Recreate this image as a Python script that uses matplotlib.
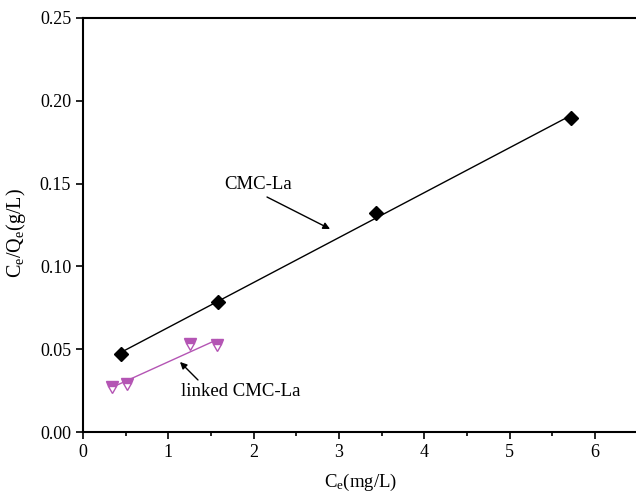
import numpy as np
import matplotlib.pyplot as plt
from matplotlib.ticker import MultipleLocator, FormatStrFormatter

plt.rcParams['font.family'] = 'Liberation Serif'
plt.rcParams['mathtext.fontset'] = 'custom'
plt.rcParams['mathtext.rm'] = 'Liberation Serif'
plt.rcParams['mathtext.it'] = 'Liberation Serif'

# equilibrium concentration (mg/L) vs Ce/Qe (g/L)
ce_cmc = [0.445, 1.58, 3.43, 5.72]
ratio_cmc = [0.0471, 0.0785, 0.132, 0.1896]
ce_linked = [0.336, 0.512, 1.26, 1.57]
ratio_linked = [0.0274, 0.0290, 0.0531, 0.0525]

purple = '#b455b4'

fig = plt.figure(figsize=(6.36, 4.94), dpi=100)
ax = fig.add_axes([83 / 636, 62 / 494, 554.5 / 636, 414 / 494])

# linear fits drawn over each data range
for xs, ys, col in [(ce_cmc, ratio_cmc, 'black'), (ce_linked, ratio_linked, purple)]:
    k, b = np.polyfit(xs, ys, 1)
    xx = np.array([min(xs), max(xs)])
    ax.plot(xx, k * xx + b, color=col, lw=1.0)

ax.plot(ce_cmc, ratio_cmc, 'D', color='black', ms=7, zorder=3)
ax.plot(ce_linked, ratio_linked, 'v', color=purple, mfc=purple, mec=purple,
        fillstyle='top', markerfacecoloralt='white', ms=9, mew=1.0, zorder=3)

# labels with pointer arrows
arrow = dict(arrowstyle='-|>', color='black', lw=1.0, mutation_scale=10,
             shrinkA=0, shrinkB=0)
ax.text(1.66, 0.1496, 'CMC-La', fontsize=13.5, ha='left', va='center')
ax.annotate('', xy=(2.896, 0.1226), xytext=(2.157, 0.1419), arrowprops=arrow)
ax.text(1.15, 0.0242, 'linked CMC-La', fontsize=13.5, ha='left', va='center')
ax.annotate('', xy=(1.137, 0.0423), xytext=(1.348, 0.0314), arrowprops=arrow)

ax.set_xlim(0, 6.5)
ax.set_ylim(0, 0.25)
ax.xaxis.set_major_locator(MultipleLocator(1))
ax.xaxis.set_minor_locator(MultipleLocator(0.5))
ax.yaxis.set_major_locator(MultipleLocator(0.05))
ax.yaxis.set_major_formatter(FormatStrFormatter('%.2f'))
ax.tick_params(which='major', direction='out', length=5, width=1.2, labelsize=13)
ax.tick_params(which='minor', direction='out', length=3, width=1.2)
for s in ax.spines.values():
    s.set_linewidth(1.5)
ax.spines['right'].set_visible(False)

ax.set_xlabel(r'C$_\mathrm{e}$(mg/L)', fontsize=13.5)
ax.xaxis.set_label_coords(0.5, -0.097)
ax.set_ylabel(r'C$_\mathrm{e}$/Q$_\mathrm{e}$(g/L)', fontsize=14.5)
ax.yaxis.set_label_coords(-0.099, 0.48)

fig.savefig('out.png', dpi=100)
